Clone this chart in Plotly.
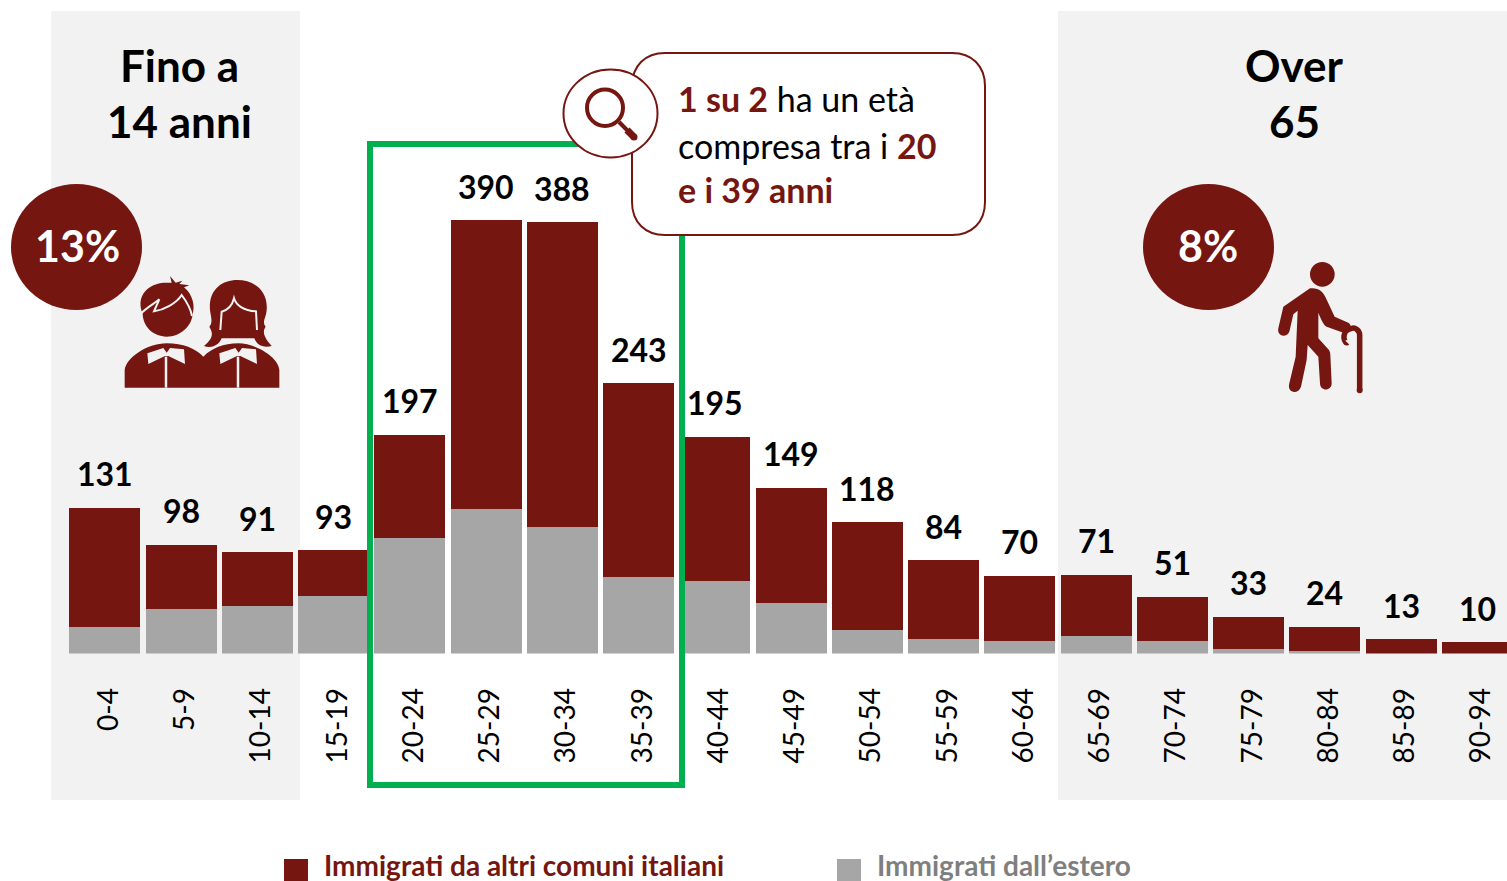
import re
import plotly.graph_objects as go

age_groups = ["0-4","5-9","10-14","15-19","20-24","25-29","30-34","35-39","40-44","45-49",
              "50-54","55-59","60-64","65-69","70-74","75-79","80-84","85-89","90-94"]
totals = [131,98,91,93,197,390,388,243,195,149,118,84,70,71,51,33,24,13,10]
estero = [24,40,43,52,104,130,114,69,65,45,21,13,11,16,11,4,2,0,0]
comuni = [107,58,48,41,93,260,274,174,130,104,97,71,59,55,40,29,22,13,10]

W, H = 1507, 881
RED = "#751611"
GREY = "#a6a6a6"
PANEL = "#f2f2f2"
GREEN = "#00b050"
FONT = "Lato"

PX = lambda x: x / W
PY = lambda y: 1 - y / H


def path(d, ox=0, oy=0, k=1):
    toks = re.findall(r"[A-Za-z]|-?\d+\.?\d*", d)
    out, is_x = [], True
    for t in toks:
        if t.isalpha():
            out.append(t)
        elif is_x:
            out.append(f"{PX(ox + float(t) / k):.5f}")
            is_x = False
        else:
            out.append(f"{PY(oy + float(t) / k):.5f}")
            is_x = True
    return " ".join(out)


shapes = []


def add_path(d, fill=None, line=None, lw=0, ox=0, oy=0, k=1, layer="above"):
    shapes.append(dict(type="path", xref="paper", yref="paper", layer=layer,
                       path=path(d, ox, oy, k), fillcolor=fill or "rgba(0,0,0,0)",
                       line=dict(color=line or "rgba(0,0,0,0)", width=lw)))


def add_rect(x0, y0, x1, y1, fill=None, line=None, lw=0, layer="above"):
    shapes.append(dict(type="rect", xref="paper", yref="paper", layer=layer,
                       x0=PX(x0), x1=PX(x1), y0=PY(y1), y1=PY(y0),
                       fillcolor=fill or "rgba(0,0,0,0)",
                       line=dict(color=line or "rgba(0,0,0,0)", width=lw)))


def add_oval(x0, y0, x1, y1, fill=None, line=None, lw=0, layer="above"):
    shapes.append(dict(type="circle", xref="paper", yref="paper", layer=layer,
                       x0=PX(x0), x1=PX(x1), y0=PY(y1), y1=PY(y0),
                       fillcolor=fill or "rgba(0,0,0,0)",
                       line=dict(color=line or "rgba(0,0,0,0)", width=lw)))


# background panels
add_rect(51, 11, 300, 800, fill=PANEL, layer="below")
add_rect(1058, 11, 1507, 800, fill=PANEL, layer="below")

# green highlight
add_rect(370, 144, 682, 785, line=GREEN, lw=6)

# callout
add_path("M 665 53 L 952 53 C 972 53 985 66 985 86 L 985 202 C 985 222 972 235 952 235 "
         "L 665 235 C 645 235 632 222 632 202 L 632 86 C 632 66 645 53 665 53 Z",
         fill="white", line=RED, lw=2)
add_oval(563.5, 69.5, 657.5, 157.5, fill="white", line=RED, lw=2)
add_oval(587, 89.5, 623, 126, line=RED, lw=4)
add_path("M 619 122 L 628 131", line=RED, lw=4)
add_path("M 627 130 L 634 137", line=RED, lw=7)
add_oval(630.5, 133.5, 637.5, 140.5, fill=RED)

# percent circles
add_oval(11, 184, 142, 310, fill=RED)
add_oval(1143, 184, 1274, 310, fill=RED)

# children icon (drawn in 3x crop units, origin 0,170)
kw = dict(ox=0, oy=170, k=3)
add_path("M 374 653 L 374 600 C 378 565 440 520 500 520 C 550 520 585 535 610 560 "
         "C 635 535 670 520 715 520 C 765 520 835 560 838 600 L 838 653 Z", fill=RED, **kw)
add_path("M 428 430 C 410 390 430 345 490 338 L 515 338 L 510 318 L 527 338 L 547 332 L 538 342 "
         "L 568 346 L 552 352 C 580 375 585 410 578 432 C 575 470 540 500 500 500 "
         "C 460 500 428 470 428 430 Z", fill=RED, **kw)
add_path("M 422 432 C 440 412 465 400 478 388 L 462 424 C 490 420 530 400 545 375 "
         "C 560 395 572 415 576 438", line=PANEL, lw=2, **kw)
add_path("M 630 420 C 625 360 665 330 712 330 C 760 330 805 360 800 420 C 798 445 785 455 797 470 "
         "C 790 480 785 495 815 528 C 790 535 770 525 763 505 L 665 505 C 655 530 630 535 612 528 "
         "C 640 505 640 490 628 470 C 640 455 632 440 630 420 Z", fill=RED, **kw)
add_path("M 661 480 L 665 425 C 685 420 697 405 702 385 C 708 405 730 422 768 424 L 771 480",
         line=PANEL, lw=2, **kw)
add_path("M 442 550 L 490 534 L 500 548 L 510 534 L 552 538 L 555 582 L 505 558 L 495 558 L 445 582 Z",
         fill=PANEL, **kw)
add_path("M 658 550 L 706 534 L 716 548 L 726 534 L 768 538 L 771 582 L 721 558 L 711 558 L 661 582 Z",
         fill=PANEL, **kw)
add_path("M 498 560 L 498 653", line=PANEL, lw=2.5, **kw)
add_path("M 714 560 L 714 653", line=PANEL, lw=2.5, **kw)

# elderly icon (3x crop units, origin 1130,170)
kw = dict(ox=1130, oy=170, k=3)
add_oval(1130 + 540 / 3, 170 + 276 / 3, 1130 + 614 / 3, 170 + 350 / 3, fill=RED)
add_path("M 540 355 C 565 352 580 365 588 385 L 614 440 L 655 458 C 668 465 665 490 640 488 L 590 470 "
         "C 580 465 572 445 565 428 L 565 505 L 597 540 C 600 545 601 550 601 555 L 605 640 "
         "C 605 665 570 665 570 640 L 565 560 L 533 525 L 530 570 L 513 650 C 505 675 470 670 478 640 "
         "L 497 560 L 503 422 L 490 433 L 478 485 C 470 505 440 500 445 475 L 460 410 Z", fill=RED, **kw)
add_path("M 689 660 L 689 495 C 689 480 675 472 665 475 C 650 478 640 490 642 505 C 643 515 650 520 652 518",
         line=RED, lw=5.5, **kw)
add_oval(1130 + 680 / 3, 170 + 652 / 3, 1130 + 698 / 3, 170 + 670 / 3, fill=RED)

# legend swatches
add_rect(284, 859, 308, 890, fill=RED)
add_rect(837, 859, 861, 890, fill=GREY)

ann = []


def text(x, y, s, size, color="black", bold=False, xanchor="center"):
    if bold:
        s = f"<b>{s}</b>"
    ann.append(dict(xref="paper", yref="paper", x=PX(x), y=PY(y), text=s, showarrow=False,
                    xanchor=xanchor, yanchor="middle", align="left" if xanchor == "left" else "center",
                    borderpad=0, font=dict(family=FONT, size=size, color=color)))


text(179, 65, "Fino a", 44, bold=True)
text(179, 121, "14 anni", 44, bold=True)
text(1294, 65, "Over", 44, bold=True)
text(1294, 121, "65", 44, bold=True)
text(77, 246, "13%", 43, color="white", bold=True)
text(1208, 246, "8%", 43, color="white", bold=True)


def r(s):
    return f'<span style="color:{RED}"><b>{s}</b></span>'


text(677, 99, r("1 su 2") + " ha un età", 34, xanchor="left")
text(677, 145, "compresa tra i " + r("20"), 34, xanchor="left")
text(677, 190, r("e i 39 anni"), 34, xanchor="left")
text(323, 865, "Immigrati da altri comuni italiani", 28, color=RED, bold=True, xanchor="left")
text(876, 865, "Immigrati dall’estero", 28, color="#7f7f7f", bold=True, xanchor="left")

for cat, tot in zip(age_groups, totals):
    ann.append(dict(xref="x", yref="y", x=cat, y=tot, yshift=34, text=f"<b>{tot}</b>", showarrow=False,
                    xanchor="center", yanchor="middle", font=dict(family=FONT, size=32, color="black")))

fig = go.Figure()
fig.add_bar(name="Immigrati dall’estero", x=age_groups, y=estero, marker_color=GREY, marker_line_width=0)
fig.add_bar(name="Immigrati da altri comuni italiani", x=age_groups, y=comuni, marker_color=RED, marker_line_width=0)

PX_PER_UNIT = 1.1115
BASE = 653.5
STEP = 76.25
C0 = 104.8
fig.update_layout(
    width=W, height=H, autosize=False, margin=dict(l=0, r=0, t=0, b=0, pad=0),
    paper_bgcolor="white", plot_bgcolor="rgba(0,0,0,0)",
    barmode="stack", bargap=0.069, showlegend=False,
    font=dict(family=FONT),
    xaxis=dict(type="category", categoryorder="array", categoryarray=age_groups,
               range=[-C0 / STEP, (W - C0) / STEP], showgrid=False, zeroline=False, showline=False,
               ticks="", tickangle=-90, ticklabelstandoff=28, ticklabelshift=4, automargin=False,
               tickfont=dict(family=FONT, size=28, color="black")),
    yaxis=dict(domain=[(H - BASE) / H, 1], range=[0, BASE / PX_PER_UNIT], visible=False, automargin=False),
    shapes=shapes, annotations=ann,
)
fig.write_html("out.html", config={"displayModeBar": False},
               post_script="document.body.style.margin='0';document.body.style.overflow='hidden';")
